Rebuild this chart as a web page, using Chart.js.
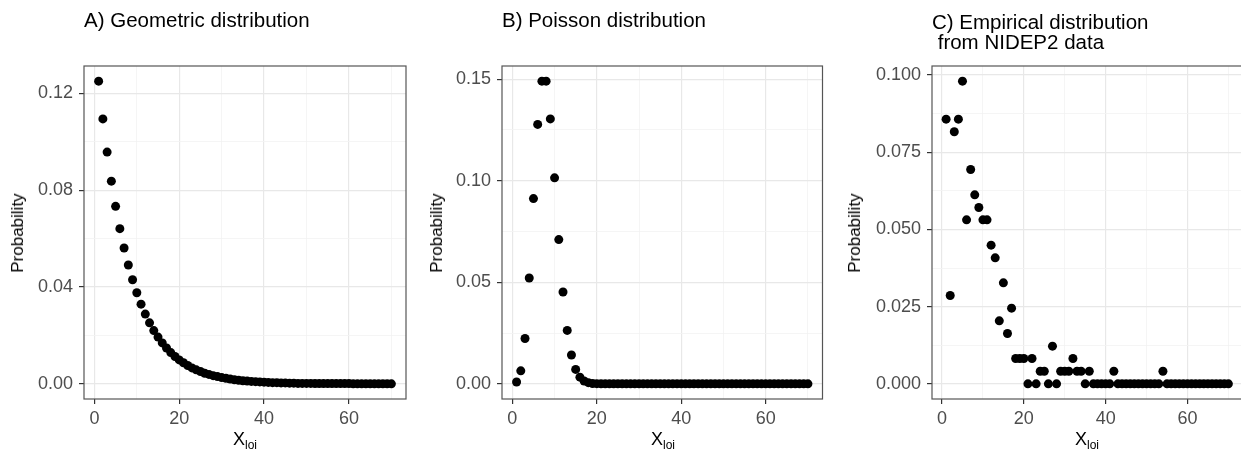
<!DOCTYPE html>
<html>
<head>
<meta charset="utf-8">
<script src="https://cdn.jsdelivr.net/npm/chart.js@4.4.1/dist/chart.umd.min.js"></script>
<style>
  html, body { margin: 0; padding: 0; background: #fff; overflow: hidden; }
  body { width: 1241px; height: 455px; position: relative; font-family: "Liberation Sans", Arial, sans-serif; }
  canvas { position: absolute; top: 0; }
  .title { position: absolute; font-size: 20.5px; line-height: 20px; color: #000; white-space: pre; }
  .ytitle { position: absolute; font-size: 17px; color: #000; transform: translate(-50%, -50%) rotate(-90deg); white-space: nowrap; }
  .xtitle { position: absolute; font-size: 18px; color: #000; transform: translateX(-50%); white-space: nowrap; }
  .xtitle sub { font-size: 12px; vertical-align: -4px; }
</style>
</head>
<body>
<canvas id="chart-a" width="413" height="455" style="left:0px"></canvas>
<canvas id="chart-b" width="414" height="455" style="left:413px"></canvas>
<canvas id="chart-c" width="420" height="455" style="left:827px"></canvas>

<div class="title" style="left:84px; top:10px">A) Geometric distribution</div>
<div class="title" style="left:502px; top:10px">B) Poisson distribution</div>
<div class="title" style="left:932px; top:12px">C) Empirical distribution
 from NIDEP2 data</div>

<div class="ytitle" style="left:18px; top:233px">Probability</div>
<div class="ytitle" style="left:437px; top:233px">Probability</div>
<div class="ytitle" style="left:855px; top:233px">Probability</div>

<div class="xtitle" style="left:245px; top:429px">X<sub>loi</sub></div>
<div class="xtitle" style="left:663px; top:429px">X<sub>loi</sub></div>
<div class="xtitle" style="left:1087px; top:429px">X<sub>loi</sub></div>

<script>
// ============= Data =============

const xValues = [
  1, 2, 3, 4, 5, 6, 7, 8, 9, 10, 11, 12, 13, 14, 15, 16, 17, 18, 19, 20,
  21, 22, 23, 24, 25, 26, 27, 28, 29, 30, 31, 32, 33, 34, 35, 36, 37, 38, 39, 40,
  41, 42, 43, 44, 45, 46, 47, 48, 49, 50, 51, 52, 53, 54, 55, 56, 57, 58, 59, 60,
  61, 62, 63, 64, 65, 66, 67, 68, 69, 70,
];

// A) geometric
const geomProb = [
  0.1250, 0.1094, 0.0957, 0.0837, 0.0733, 0.0641, 0.0561, 0.0491, 0.0430, 0.0376,
  0.0329, 0.0288, 0.0252, 0.0220, 0.0193, 0.0169, 0.0148, 0.0129, 0.0113, 0.0099,
  0.0087, 0.0076, 0.0066, 0.0058, 0.0051, 0.0044, 0.0039, 0.0034, 0.0030, 0.0026,
  0.0023, 0.0020, 0.0017, 0.0015, 0.0013, 0.0012, 0.0010, 0.0009, 0.0008, 0.0007,
  0.0006, 0.0005, 0.0005, 0.0004, 0.0004, 0.0003, 0.0003, 0.0002, 0.0002, 0.0002,
  0.0002, 0.0001, 0.0001, 0.0001, 0.0001, 0.0001, 0.0001, 0.0001, 0.0001, 0.0001,
  0, 0, 0, 0, 0, 0, 0, 0, 0, 0,
];

// B) poisson
const poisProb = [
  0.0009, 0.0064, 0.0223, 0.0521, 0.0912, 0.1277, 0.1490, 0.1490, 0.1304, 0.1014,
  0.0710, 0.0452, 0.0263, 0.0142, 0.0071, 0.0033, 0.0014, 0.0006, 0.0002, 0.0001,
  0, 0, 0, 0, 0, 0, 0, 0, 0, 0,
  0, 0, 0, 0, 0, 0, 0, 0, 0, 0,
  0, 0, 0, 0, 0, 0, 0, 0, 0, 0,
  0, 0, 0, 0, 0, 0, 0, 0, 0, 0,
  0, 0, 0, 0, 0, 0, 0, 0, 0, 0,
];

// C) empirique (NIDEP2)
const empProb = [
  0.0857, 0.0286, 0.0816, 0.0857, 0.0980, 0.0531, 0.0694, 0.0612, 0.0571, 0.0531,
  0.0531, 0.0449, 0.0408, 0.0204, 0.0327, 0.0163, 0.0245, 0.0082, 0.0082, 0.0082,
  0, 0.0082, 0, 0.0041, 0.0041, 0, 0.0122, 0, 0.0041, 0.0041,
  0.0041, 0.0082, 0.0041, 0.0041, 0, 0.0041, 0, 0, 0, 0,
  0, 0.0041, 0, 0, 0, 0, 0, 0, 0, 0,
  0, 0, 0, 0.0041, 0, 0, 0, 0, 0, 0,
  0, 0, 0, 0, 0, 0, 0, 0, 0, 0,
];

const xTicks = [0, 10, 20, 30, 40, 50, 60, 70];
const xTickLabels = [0, 20, 40, 60];

const geomTicks = [0, 0.02, 0.04, 0.06, 0.08, 0.10, 0.12];
const geomTickLabels = [0, 0.04, 0.08, 0.12];
const poisTicks = [0, 0.025, 0.05, 0.075, 0.10, 0.125, 0.15];
const poisTickLabels = [0, 0.05, 0.10, 0.15];
const empTicks = [0, 0.0125, 0.025, 0.0375, 0.05, 0.0625, 0.075, 0.0875, 0.10];
const empTickLabels = [0, 0.025, 0.05, 0.075, 0.10];

// ============= Helpers =============

const $ = (sel) => document.querySelector(sel);

const TICK_FONT = { family: "'Liberation Sans', Arial, sans-serif", size: 18 };

// border kotak panel (theme_bw)
const panelBorder = {
  id: "panelBorder",
  afterDatasetsDraw(chart) {
    const { ctx, chartArea: a } = chart;
    ctx.save();
    ctx.strokeStyle = "#555";
    ctx.lineWidth = 1.2;
    ctx.strokeRect(a.left, a.top, a.right - a.left, a.bottom - a.top);
    ctx.restore();
  },
};

function axisOpts(ticks, labels, digits, min, max, pad) {
  return {
    type: "linear",
    min,
    max,
    border: { display: false },
    afterBuildTicks: (s) => { s.ticks = ticks.map((v) => ({ value: v })); },
    ticks: {
      color: "#4d4d4d",
      font: TICK_FONT,
      padding: pad,
      maxRotation: 0,
      autoSkip: false,
      callback: (v) => (labels.includes(v) ? v.toFixed(digits) : ""),
    },
    grid: {
      color: (c) => (labels.includes(c.tick && c.tick.value) ? "#e8e8e8" : "#f3f3f3"),
      lineWidth: (c) => (labels.includes(c.tick && c.tick.value) ? 1.2 : 0.8),
      tickLength: 5,
      tickWidth: 1.2,
      tickColor: (c) => (labels.includes(c.tick && c.tick.value) ? "#333" : "rgba(0,0,0,0)"),
    },
  };
}

function makePanel(id, values, yTicks, yLabels, yDigits, yMin, yMax, yWidth, padRight) {
  const x = axisOpts(xTicks, xTickLabels, 0, -2.45, 73.45, 4);
  x.afterFit = (s) => { s.height = 56; };
  const y = axisOpts(yTicks, yLabels, yDigits, yMin, yMax, 6);
  y.afterFit = (s) => { s.width = yWidth; };

  return new Chart($(id), {
    type: "scatter",
    data: {
      datasets: [{
        data: xValues.map((v, i) => ({ x: v, y: values[i] })),
        backgroundColor: "#000",
        borderColor: "#000",
        pointRadius: 4.5,
        pointHoverRadius: 4.5,
        borderWidth: 0,
      }],
    },
    options: {
      responsive: false,
      animation: false,
      devicePixelRatio: 1,
      layout: { padding: { top: 66, right: padRight, bottom: 0, left: 0 } },
      plugins: { legend: { display: false }, tooltip: { enabled: false } },
      scales: { x, y },
    },
    plugins: [panelBorder],
  });
}

// ============= Boot =============

makePanel("#chart-a", geomProb, geomTicks, geomTickLabels, 2, -0.00625, 0.13125, 84, 7);
makePanel("#chart-b", poisProb, poisTicks, poisTickLabels, 2, -0.00745, 0.15645, 89, 4);
makePanel("#chart-c", empProb, empTicks, empTickLabels, 3, -0.0049, 0.1029, 105, 4);
</script>
</body>
</html>
